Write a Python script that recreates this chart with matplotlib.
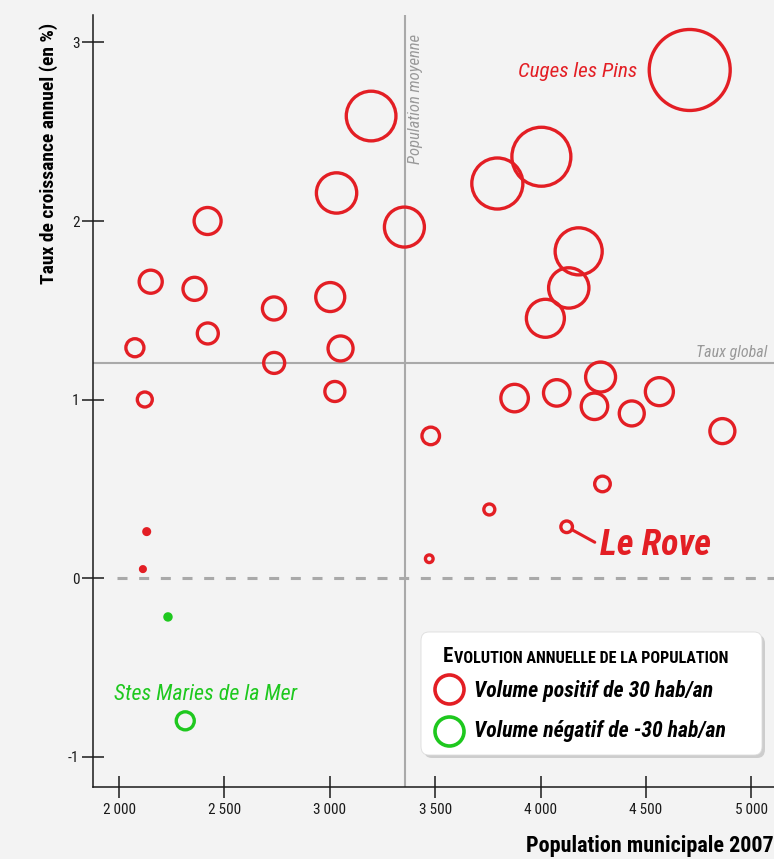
import matplotlib

matplotlib.use("Agg")
import matplotlib.pyplot as plt
import numpy as np
from matplotlib import font_manager
from matplotlib.lines import Line2D
from matplotlib.patches import FancyBboxPatch

# Communes: population 2007, taux de croissance annuel (%), volume annuel (hab/an)
population = [2420, 2150, 2358, 2075, 2122, 2131, 2113, 2421, 2735, 2736,
              3051, 3024, 3002, 3032, 3196, 3354, 3795, 4004, 4181, 4134,
              4023, 4708, 4285, 3877, 4077, 4256, 4433, 4564, 4863, 3479,
              4294, 3757, 4124, 3472, 2232, 2314]
taux = [2.00, 1.66, 1.62, 1.29, 1.00, 0.26, 0.05, 1.37, 1.51, 1.205,
        1.286, 1.045, 1.574, 2.157, 2.588, 1.966, 2.21, 2.36, 1.83, 1.625,
        1.455, 2.846, 1.126, 1.008, 1.037, 0.962, 0.922, 1.044, 0.823, 0.796,
        0.527, 0.384, 0.287, 0.108, -0.218, -0.80]
volume = [26, 19, 19, 11.6, 8, 1.16, 0.8, 15.7, 19, 15.7,
          22.3, 14.3, 30, 58, 88, 57, 93, 124, 79, 58,
          51.5, 234, 32, 27, 25, 25, 22.3, 28, 22.3, 11,
          8.7, 4.3, 4.8, 2.1, -1.33, -11.6]

# communes named on the chart (index into the lists above)
labels = {21: "Cuges les Pins", 32: "Le Rove", 35: "Stes Maries de la Mer"}

pop_moyenne = 3356
taux_global = 1.204
legend_volume = 30

x_ticks = [2000, 2500, 3000, 3500, 4000, 4500, 5000]
y_ticks = [-1, 0, 1, 2, 3]

RED = "#e31e24"
GREEN = "#1ec81e"
GREY = "#a9a9a9"
INK = "#1a1a1a"
BG = "#f3f3f3"
RING = 2.4  # ring stroke, pt

DPI = 100
names = {f.name for f in font_manager.fontManager.ttflist}
NARROW = next((n for n in ("Roboto Condensed", "Liberation Sans Narrow",
                           "Open Sans Condensed", "Noto Sans Condensed")
               if n in names), "Liberation Sans")
plt.rcParams["font.family"] = [NARROW, "DejaVu Sans"]
plt.rcParams["lines.scale_dashes"] = False


def bubble_diam(v):
    # 30 hab/an -> ring of 14.5 px radius; area proportional to volume
    r_px = 14.5 * np.sqrt(np.abs(np.asarray(v, dtype=float)) / 30)
    return 2 * r_px * 72 / DPI


fig = plt.figure(figsize=(7.74, 8.59), dpi=DPI, facecolor=BG)
ax = fig.add_axes([93.3 / 774, 1 - 786.7 / 859, 680.7 / 774, 771.7 / 859])
ax.set_facecolor(BG)
ax.set_xlim(1877.6, 5108)
ax.set_ylim(-1.169, 3.154)

# reference lines
ax.axvline(pop_moyenne, color=GREY, lw=1.5, zorder=1)
ax.axhline(taux_global, color=GREY, lw=1.5, zorder=1)
ax.plot([1990, 5108], [0, 0], color=GREY, lw=2.2, ls=(0, (7.2, 8.4)),
        zorder=1, clip_on=False)

pop = np.array(population)
tx = np.array(taux)
vol = np.array(volume)
colors = np.where(vol >= 0, RED, GREEN)
diam = bubble_diam(vol)
# rings too small to keep a hole are drawn as plain dots
faces = np.where(diam < 2 * RING, colors, "none")
ax.scatter(pop, tx, s=diam ** 2, facecolors=faces, edgecolors=colors,
           linewidths=RING, zorder=3)

# labels
i = 21
ax.annotate(labels[i], (pop[i], tx[i]), xytext=(-38, -5.3),
            textcoords="offset points", ha="right", va="baseline",
            color=RED, fontsize=15.2, style="italic")
i = 35
ax.annotate(labels[i], (pop[i], tx[i]), xytext=(14.4, 15),
            textcoords="offset points", ha="center", va="baseline",
            color=GREEN, fontsize=15.8, style="italic")
i = 32
ax.annotate(labels[i], (pop[i], tx[i]), xytext=(24, -20.4),
            textcoords="offset points", ha="left", va="baseline",
            color=RED, fontsize=26, style="italic", fontweight="bold",
            arrowprops=dict(arrowstyle="-", color=RED, lw=2.2,
                            relpos=(0, 0.5), shrinkA=2, shrinkB=5.3))

ax.annotate("Population moyenne", (pop_moyenne, 1),
            xycoords=("data", "axes fraction"), xytext=(7.5, -14),
            textcoords="offset points", rotation=90, ha="center", va="top",
            color="#999999", fontsize=12, style="italic")
ax.annotate("Taux global", (1, taux_global),
            xycoords=("axes fraction", "data"), xytext=(-5, 2),
            textcoords="offset points", ha="right", va="bottom",
            color="#999999", fontsize=11.5, style="italic")

# axes
for s in ("top", "right"):
    ax.spines[s].set_visible(False)
for s in ("left", "bottom"):
    ax.spines[s].set_color(INK)
    ax.spines[s].set_linewidth(1.1)
ax.set_xticks(x_ticks)
ax.set_xticklabels([f"{t:,}".replace(",", "\u2009") for t in x_ticks])
ax.set_yticks(y_ticks)
ax.set_yticklabels([str(t) for t in y_ticks])
ax.tick_params(direction="inout", length=16, width=1.1, color=INK,
               labelcolor=INK, labelsize=11)
ax.tick_params(axis="x", pad=4)
ax.tick_params(axis="y", pad=2)

ax.set_ylabel("Taux de croissance annuel (en %)", fontsize=14,
              fontweight="bold", va="center")
ax.yaxis.set_label_coords(-0.066, 0.821)
ax.set_xlabel("Population municipale 2007", fontsize=15.9,
              fontweight="bold", ha="left", va="center")
ax.xaxis.set_label_coords(0.6357, -0.0768)


# legend box
def fx(px):
    return px / 774


def fy(py):
    return 1 - py / 859


shadow = FancyBboxPatch((fx(424), fy(758)), fx(341), 123 / 859,
                        boxstyle="round,pad=0,rounding_size=0.01",
                        transform=fig.transFigure, facecolor="#888888",
                        edgecolor="none", alpha=0.35, zorder=4)
box = FancyBboxPatch((fx(421), fy(755)), fx(341), 123 / 859,
                     boxstyle="round,pad=0,rounding_size=0.01",
                     transform=fig.transFigure, facecolor="white",
                     edgecolor="#dddddd", lw=0.6, zorder=5)
fig.add_artist(shadow)
fig.add_artist(box)

t_e = fig.text(fx(443), fy(662), "E", fontsize=15, fontweight="bold",
               color="black", va="baseline", zorder=6)
fig.add_artist(
    plt.Annotation("VOLUTION ANNUELLE DE LA POPULATION", (1, 0), xycoords=t_e,
                   xytext=(0.5, 0), textcoords="offset points",
                   va="bottom", fontsize=11.6, fontweight="bold",
                   color="black", zorder=6))

for yy, v, c in ((689, legend_volume, RED), (731, -legend_volume, GREEN)):
    fig.add_artist(Line2D([fx(449)], [fy(yy)], marker="o", linestyle="none",
                          markersize=bubble_diam(v), markerfacecolor="none",
                          markeredgecolor=c, markeredgewidth=2.6,
                          transform=fig.transFigure, zorder=7))
fig.text(fx(474), fy(697), "Volume positif de 30 hab/an", fontsize=15.7,
         fontweight="bold", style="italic", va="baseline", zorder=6)
fig.text(fx(474), fy(737), "Volume négatif de -30 hab/an", fontsize=15.7,
         fontweight="bold", style="italic", va="baseline", zorder=6)

fig.savefig("out.png", dpi=DPI, facecolor=BG)
